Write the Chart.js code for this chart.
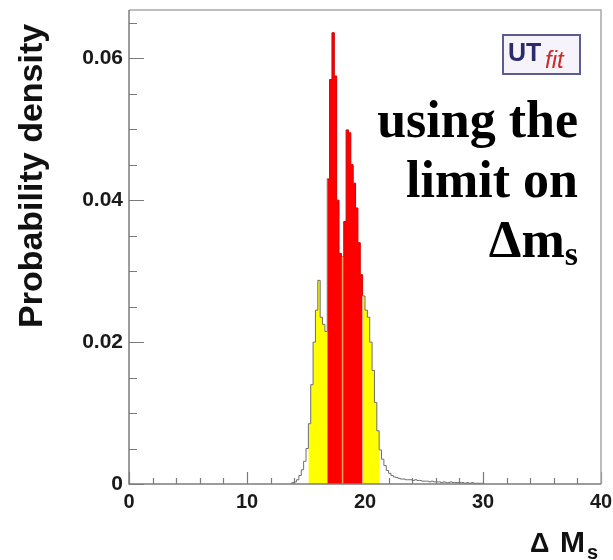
<!DOCTYPE html>
<html>
<head>
<meta charset="utf-8">
<title>Delta Ms probability density</title>
<script src="https://cdn.jsdelivr.net/npm/chart.js@4.4.1/dist/chart.umd.min.js"></script>
<style>
  html, body { margin: 0; padding: 0; background: #fff; }
  #wrap { width: 613px; height: 560px; }
</style>
</head>
<body>
<div id="wrap"><canvas id="dms" width="613" height="560"></canvas></div>
<script>
// histogram of Delta M_s, fixed bins starting at binStart
var binStart = 13.8;
var binWidth = 0.2;
var density = [
	0.0002, 0.0003, 0.0006, 0.0012, 0.0020, 0.0032, 0.0050, 0.0085, 0.0140, 0.0200,
	0.0245, 0.0287, 0.0235, 0.0225, 0.0215, 0.0430, 0.0570, 0.0636, 0.0575, 0.0400,
	0.0325, 0.0320, 0.0370, 0.0499, 0.0495, 0.0450, 0.0424, 0.0389, 0.0340, 0.0295,
	0.0265, 0.0245, 0.0235, 0.0200, 0.0160, 0.0115, 0.0075, 0.0048, 0.0035, 0.0026,
	0.0019, 0.0015, 0.0012, 0.0010, 0.0009, 0.0008, 0.0007, 0.0007, 0.0006, 0.0006,
	0.0006, 0.0005, 0.0006, 0.0005, 0.0005, 0.0004, 0.0004, 0.0004, 0.0003, 0.0004,
	0.0003, 0.0003, 0.0003, 0.0002, 0.0003, 0.0002, 0.0002, 0.0003, 0.0002, 0.0002,
	0.0002, 0.0002, 0.0002, 0.0001, 0.0002, 0.0001, 0.0002, 0.0001, 0.0001, 0.0001,
	0.0001
];
var redRange = [16.8, 19.8];      // 68% probability region
var yellowRange = [15.2, 21.2];   // 95% probability region
var medianValue = 18.1;
var xRange = [0, 40];
var yRange = [0, 0.0668];
var xMinorStep = 2;
var yMinorStep = 0.005;
var noteLines = ['using the', 'limit on'];

var RED = '#ff0000';
var YELLOW = '#ffff00';
var LINE_GREY = '#6e6e6e';

function binCenter(i) {
	return binStart + (i + 0.5) * binWidth;
}

function binFill(i) {
	var c = binCenter(i);
	if (c > redRange[0] && c < redRange[1]) return RED;
	if (c > yellowRange[0] && c < yellowRange[1]) return YELLOW;
	return 'rgba(0,0,0,0)';
}

// step points at bin left edges, closed at the last right edge
var histPoints = [{x: binStart, y: 0}];
density.forEach(function(v, i) {
	histPoints.push({x: binStart + i * binWidth, y: v});
});
histPoints.push({x: binStart + density.length * binWidth, y: 0});

var medianBin = Math.floor((medianValue - binStart) / binWidth);
var medianPoints = [{x: medianValue, y: 0}, {x: medianValue, y: density[medianBin]}];

function binOfSegment(ctx) {
	return ctx.p0DataIndex - 1; // first point is the opening zero
}

var rootDecor = {
	id: 'rootDecor',

	beforeDatasetsDraw: function(chart) {
		var ctx = chart.ctx, a = chart.chartArea;
		var xs = chart.scales.x, ys = chart.scales.y;
		ctx.save();
		ctx.strokeStyle = '#7a7a7a';
		ctx.lineWidth = 1.2;
		ctx.beginPath();
		for (var k = 0; k * xMinorStep <= xRange[1] + 1e-9; k++) {
			var v = k * xMinorStep;
			var px = Math.round(xs.getPixelForValue(v)) + 0.5;
			var len = (v % 10 === 0) ? 12 : 6;
			ctx.moveTo(px, a.bottom);
			ctx.lineTo(px, a.bottom - len);
		}
		for (var j = 0; j * yMinorStep <= yRange[1]; j++) {
			var py = Math.round(ys.getPixelForValue(j * yMinorStep)) + 0.5;
			var l = (j % 4 === 0) ? 15 : 8;
			ctx.moveTo(a.left, py);
			ctx.lineTo(a.left + l, py);
		}
		ctx.stroke();
		ctx.restore();
	},

	afterDraw: function(chart) {
		var ctx = chart.ctx, a = chart.chartArea;
		ctx.save();

		// frame
		ctx.lineWidth = 1.5;
		ctx.strokeStyle = '#a8a8a8';
		ctx.beginPath();
		ctx.moveTo(a.left, a.top);
		ctx.lineTo(a.right, a.top);
		ctx.lineTo(a.right, a.bottom);
		ctx.stroke();
		ctx.strokeStyle = '#7c7c7c';
		ctx.beginPath();
		ctx.moveTo(a.left, a.top);
		ctx.lineTo(a.left, a.bottom);
		ctx.lineTo(a.right, a.bottom);
		ctx.stroke();

		// y title
		ctx.fillStyle = '#111';
		ctx.font = 'bold 34px "Liberation Sans", Arial, sans-serif';
		ctx.textAlign = 'left';
		ctx.textBaseline = 'alphabetic';
		ctx.save();
		ctx.translate(42, 328);
		ctx.rotate(-Math.PI / 2);
		ctx.fillText('Probability density', 0, 0);
		ctx.restore();

		// x title: Delta M_s
		ctx.font = 'bold 27px "Liberation Sans", Arial, sans-serif';
		ctx.fillText('\u0394', a.right - 71, a.bottom + 68);
		ctx.font = 'bold 30px "Liberation Sans", Arial, sans-serif';
		ctx.fillText('M', a.right - 41, a.bottom + 68);
		ctx.font = 'bold 20px "Liberation Sans", Arial, sans-serif';
		ctx.fillText('s', a.right - 14, a.bottom + 75);

		// note text
		var right = a.right - 23;
		ctx.fillStyle = '#000';
		ctx.textAlign = 'right';
		ctx.font = 'bold 52px "Liberation Serif", "Times New Roman", serif';
		noteLines.forEach(function(t, i) {
			ctx.fillText(t, right, a.top + 127 + i * 60);
		});
		ctx.font = 'bold 34px "Liberation Serif", "Times New Roman", serif';
		var sw = ctx.measureText('s').width;
		ctx.fillText('s', right, a.top + 255);
		ctx.font = 'bold 52px "Liberation Serif", "Times New Roman", serif';
		ctx.fillText('\u0394m', right - sw, a.top + 247);

		// UTfit logo
		var lx = a.right - 98, ly = a.top + 25;
		ctx.fillStyle = '#f6f3fb';
		ctx.fillRect(lx, ly, 77, 39);
		ctx.strokeStyle = '#5c5c8e';
		ctx.lineWidth = 2;
		ctx.strokeRect(lx, ly, 77, 39);
		ctx.textAlign = 'left';
		ctx.fillStyle = '#2b2b6b';
		ctx.font = 'bold 25px "Liberation Sans", Arial, sans-serif';
		ctx.fillText('UT', lx + 5, ly + 26);
		ctx.fillStyle = '#cc2a2a';
		ctx.font = 'italic 24px "Liberation Sans", Arial, sans-serif';
		ctx.fillText('fit', lx + 42, ly + 33);

		ctx.restore();
	}
};

var tickFont = {family: '"Liberation Sans", Arial, sans-serif', weight: 'bold', size: 21};

var chart = new Chart(document.getElementById('dms').getContext('2d'), {
	type: 'line',
	data: {
		datasets: [{
			label: 'median',
			data: medianPoints,
			borderColor: '#ffa35a',
			borderWidth: 1.5,
			pointRadius: 0,
			fill: false,
			order: 0
		}, {
			label: 'Delta Ms',
			data: histPoints,
			stepped: 'before',
			fill: 'origin',
			borderWidth: 1,
			borderColor: LINE_GREY,
			backgroundColor: 'rgba(0,0,0,0)',
			pointRadius: 0,
			order: 1,
			segment: {
				backgroundColor: function(ctx) { return binFill(binOfSegment(ctx)); },
				borderColor: function(ctx) {
					return binFill(binOfSegment(ctx)) === RED ? '#d00000' : LINE_GREY;
				}
			}
		}]
	},
	options: {
		responsive: false,
		animation: false,
		devicePixelRatio: 1,
		layout: {padding: {top: 10, right: 12, left: 0, bottom: 0}},
		plugins: {legend: {display: false}, tooltip: {enabled: false}},
		scales: {
			x: {
				type: 'linear',
				min: xRange[0],
				max: xRange[1],
				grid: {display: false, drawTicks: false},
				border: {display: false},
				ticks: {stepSize: 10, maxRotation: 0, padding: 6, color: '#1a1a1a',
					font: {family: tickFont.family, weight: 'bold', size: 20}},
				afterFit: function(s) { s.height = 76; s.paddingLeft = 0; s.paddingRight = 0; }
			},
			y: {
				min: yRange[0],
				max: yRange[1],
				grid: {display: false, drawTicks: false},
				border: {display: false},
				ticks: {
					stepSize: 0.02,
					includeBounds: false,
					padding: 6,
					color: '#1a1a1a',
					font: tickFont,
					callback: function(v) { return v === 0 ? '0' : v.toFixed(2); }
				},
				afterFit: function(s) { s.width = 129; s.paddingTop = 0; s.paddingBottom = 0; }
			}
		}
	},
	plugins: [rootDecor]
});
</script>
</body>
</html>
